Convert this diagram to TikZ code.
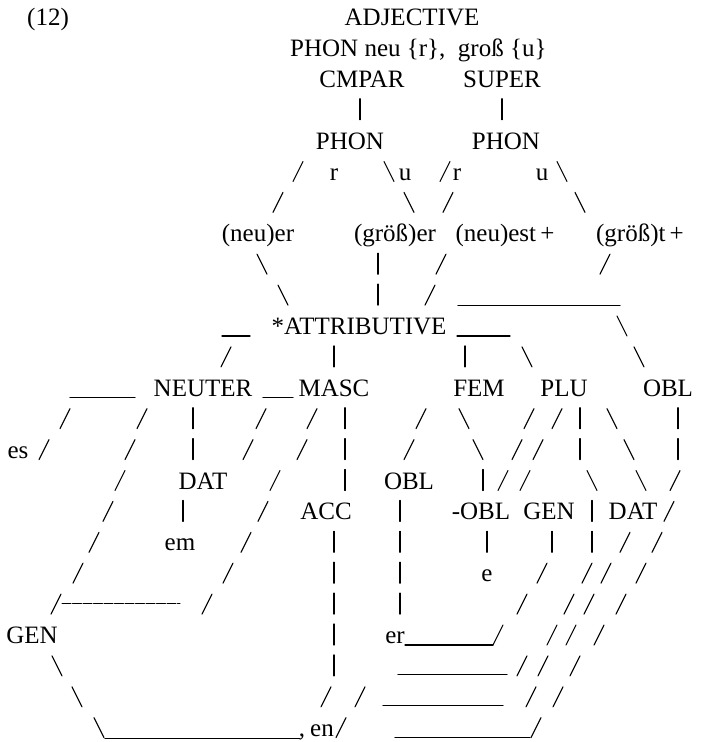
\documentclass[tikz,border=0pt]{standalone}
\usepackage{fontspec}
\setmainfont{Liberation Serif}

% every row of the chart sits on a fixed pitch; #2 is the row number
\newcommand\slashmark[2]{\draw[conn] ({#1-5},{17+30.9*(#2)+10}) -- ({#1+5},{17+30.9*(#2)-10});}
\newcommand\bslashmark[2]{\draw[conn] ({#1-5},{17+30.9*(#2)-10}) -- ({#1+5},{17+30.9*(#2)+10});}
\newcommand\barmark[2]{\draw[conn] (#1,{17+30.9*(#2)-11}) -- (#1,{17+30.9*(#2)+10});}
% underscore run from #1 to #2 on row #3, dropped by #4 below the row centre
\newcommand\segmark[4]{\draw[conn] (#1,{17+30.9*(#3)+#4}) -- (#2,{17+30.9*(#3)+#4});}
% a label: name, x, row, text
\newcommand\word[4]{\node[lbl] (#1) at (#2,{17+30.9*(#3)+8.5}) {#4};}

\begin{document}
\begin{tikzpicture}[x=1pt,y=-1pt,
  conn/.style={line width=1.1pt,line cap=round},
  lbl/.style={anchor=base,inner sep=0pt,font=\fontsize{25}{30}\selectfont}]
\useasboundingbox (0,0) rectangle (709,742);

% ---- header and degree branches
\word{num}{48}{0}{(12)}
\word{adj}{412}{0}{ADJECTIVE}
\node[lbl,anchor=base west] (phon) at (290,{17+30.9*1+8.5}) {PHON neu \{r\},\ \ groß \{u\}};
\word{cmpar}{362}{2}{CMPAR}
\word{super}{502}{2}{SUPER}
\barmark{360}{3} \barmark{502}{3}
\word{phonL}{350}{4}{PHON}
\word{phonR}{506}{4}{PHON}

\slashmark{298}{5} \word{rL}{334}{5}{r}
\bslashmark{389}{5} \word{uL}{405}{5}{u}
\slashmark{445}{5} \word{rR}{457}{5}{r}
\word{uR}{542}{5}{u} \bslashmark{562}{5}

\slashmark{278}{6} \bslashmark{409}{6} \slashmark{448}{6} \bslashmark{580}{6}

\word{neuer}{258}{7}{(neu)er}
\word{groesser}{395}{7}{(größ)er}
\word{neuest}{505}{7}{(neu)est\,+}
\word{groesst}{640}{7}{(größ)t\,+}

\bslashmark{262}{8} \barmark{378}{8} \slashmark{441}{8} \slashmark{605}{8}
\bslashmark{283}{9} \barmark{378}{9} \slashmark{430}{9}
\segmark{458}{620}{9}{10}

% ---- attributive and gender / number
\segmark{222}{250}{10}{10}
\word{attr}{359}{10}{*ATTRIBUTIVE}
\segmark{457}{510}{10}{10}
\bslashmark{622}{10}

\slashmark{226}{11} \barmark{334}{11} \barmark{465}{11} \bslashmark{527}{11} \bslashmark{639}{11}

\segmark{70}{135}{12}{10}
\word{neuter}{203}{12}{NEUTER}
\segmark{263}{293}{12}{10}
\word{masc}{334}{12}{MASC}
\word{fem}{479}{12}{FEM}
\word{plu}{564}{12}{PLU}
\word{oblR}{668}{12}{OBL}

\slashmark{65}{13} \slashmark{142}{13} \barmark{193}{13} \slashmark{261}{13} \slashmark{312}{13}
\barmark{345}{13} \slashmark{421}{13} \bslashmark{464}{13} \slashmark{529}{13} \slashmark{557}{13}
\barmark{580}{13} \bslashmark{612}{13} \barmark{678}{13}

\word{es}{18}{14}{es}
\slashmark{44}{14} \slashmark{130}{14} \barmark{193}{14} \slashmark{248}{14} \slashmark{302}{14}
\barmark{345}{14} \slashmark{409}{14} \bslashmark{478}{14} \slashmark{517}{14} \slashmark{538}{14}
\barmark{580}{14} \bslashmark{629}{14} \barmark{678}{14}

% ---- case rows
\slashmark{120}{15} \word{datN}{203}{15}{DAT} \slashmark{275}{15} \barmark{345}{15}
\word{oblF}{409}{15}{OBL} \barmark{483}{15} \slashmark{503}{15} \slashmark{525}{15}
\bslashmark{592}{15} \bslashmark{641}{15} \slashmark{675}{15}

\slashmark{108}{16} \barmark{183}{16} \slashmark{263}{16} \word{acc}{326}{16}{ACC}
\barmark{400}{16} \word{mobl}{481}{16}{-OBL} \word{genP}{549}{16}{GEN}
\barmark{592}{16} \word{datP}{633}{16}{DAT} \slashmark{669}{16}

\slashmark{94}{17} \word{em}{180}{17}{em} \slashmark{246}{17} \barmark{334}{17} \barmark{400}{17}
\barmark{487}{17} \barmark{552}{17} \barmark{592}{17} \slashmark{625}{17} \slashmark{657}{17}

\slashmark{78}{18} \slashmark{228}{18} \barmark{334}{18} \barmark{400}{18} \word{e}{487}{18}{e}
\slashmark{542}{18} \slashmark{587}{18} \slashmark{606}{18} \slashmark{641}{18}

\slashmark{56}{19}
\draw[conn,line width=1pt,dash pattern=on 9pt off 1.5pt] (62,{17+30.9*19-1}) -- (180,{17+30.9*19-1});
\slashmark{207}{19} \barmark{334}{19} \barmark{400}{19}
\slashmark{522}{19} \slashmark{569}{19} \slashmark{589}{19} \slashmark{621}{19}

% ---- endings
\word{gen}{32}{20}{GEN} \barmark{334}{20} \word{er}{395}{20}{er}
\segmark{405}{493}{20}{10} \slashmark{498}{20} \slashmark{552}{20} \slashmark{571}{20} \slashmark{599}{20}

\bslashmark{57}{21} \barmark{334}{21} \segmark{398}{507}{21}{9}
\slashmark{522}{21} \slashmark{543}{21} \slashmark{575}{21}

\bslashmark{77}{22} \slashmark{326}{22} \slashmark{360}{22} \segmark{383}{503}{22}{9}
\slashmark{531}{22} \slashmark{558}{22}

\bslashmark{99}{23} \segmark{105}{300}{23}{11}
\node[lbl,anchor=base east] (en) at (334,{17+30.9*23+8.5}) {,\hspace{5pt}en};
\slashmark{341}{23} \segmark{395}{530}{23}{10} \slashmark{536}{23}
\end{tikzpicture}
\end{document}
